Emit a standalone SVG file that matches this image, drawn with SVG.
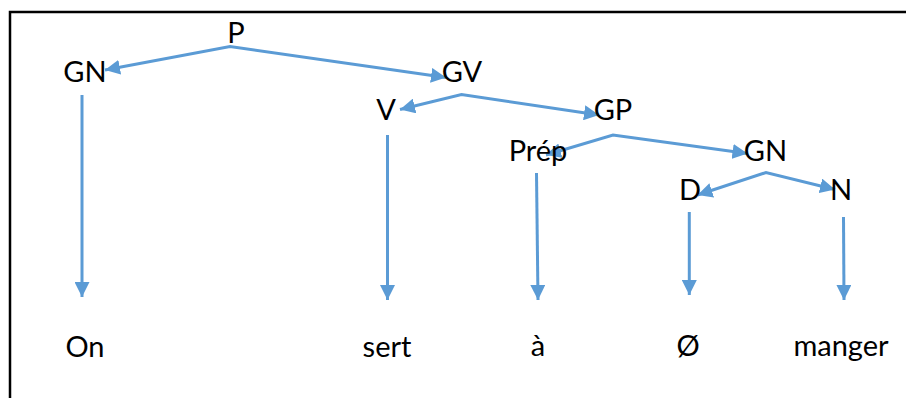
<svg xmlns="http://www.w3.org/2000/svg" width="906" height="398" viewBox="0 0 906 398">
<style>
.lbl{font-family:Lato,"Open Sans","Liberation Sans",sans-serif;font-size:29px;fill:#000;text-anchor:middle}
.c{fill:none;stroke:#5B9BD5;stroke-width:3;stroke-linejoin:miter}
</style>
<defs>
<marker id="ah" viewBox="0 0 15 15" refX="15" refY="7.5" markerWidth="15" markerHeight="15" markerUnits="userSpaceOnUse" orient="auto-start-reverse">
<path d="M0,0 L15,7.5 L0,15 z" fill="#5B9BD5"/>
</marker>
</defs>
<rect width="906" height="398" fill="#fff"/>
<g id="frame" stroke="#000" stroke-width="2.5" fill="none">
<path d="M10,398 L10,12 L906,12"/>
</g>
<g id="connectors">
<path class="c" d="M105,70 L230,46.5 L446,77.5" marker-start="url(#ah)" marker-end="url(#ah)"/>
<path class="c" d="M400,109.5 L461.5,94.5 L599,115" marker-start="url(#ah)" marker-end="url(#ah)"/>
<path class="c" d="M546,155 L613,135 L747.5,153.5" marker-start="url(#ah)" marker-end="url(#ah)"/>
<path class="c" d="M697.5,195 L766,172.5 L835,189.5" marker-start="url(#ah)" marker-end="url(#ah)"/>
<path class="c" d="M82,95 L82,297" marker-end="url(#ah)"/>
<path class="c" d="M387.5,135 L387.5,300" marker-end="url(#ah)"/>
<path class="c" d="M536.5,173 L538,300" marker-end="url(#ah)"/>
<path class="c" d="M689.3,212 L689.3,295" marker-end="url(#ah)"/>
<path class="c" d="M843.5,217 L844,300" marker-end="url(#ah)"/>
</g>
<g id="node-P"><text class="lbl" x="236" y="43">P</text></g>
<g id="node-GN1"><text class="lbl" x="85" y="82">GN</text></g>
<g id="node-GV"><text class="lbl" x="462" y="82">GV</text></g>
<g id="node-V"><text class="lbl" x="386" y="120">V</text></g>
<g id="node-GP"><text class="lbl" x="613" y="120">GP</text></g>
<g id="node-Prep"><text class="lbl" x="538" y="161">Prép</text></g>
<g id="node-GN2"><text class="lbl" x="765.5" y="161">GN</text></g>
<g id="node-D"><text class="lbl" x="690" y="200">D</text></g>
<g id="node-N"><text class="lbl" x="841" y="200">N</text></g>
<g id="word-On"><text class="lbl" x="85" y="357">On</text></g>
<g id="word-sert"><text class="lbl" x="387" y="357">sert</text></g>
<g id="word-a"><text class="lbl" x="538" y="356">à</text></g>
<g id="word-empty"><text class="lbl" x="688" y="356">Ø</text></g>
<g id="word-manger"><text class="lbl" x="841" y="356">manger</text></g>
</svg>
